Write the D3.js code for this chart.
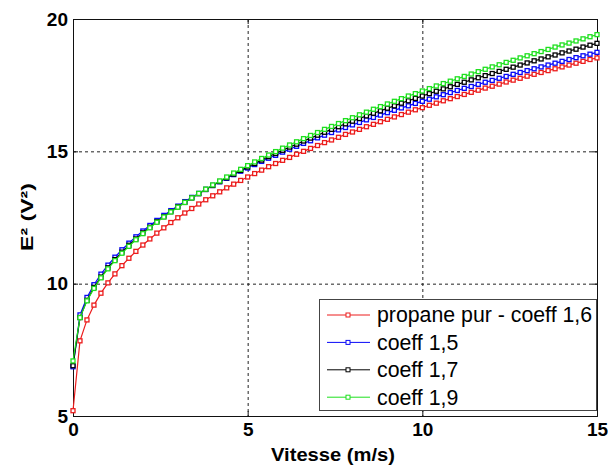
<!DOCTYPE html>
<html>
<head>
<meta charset="utf-8">
<script src="https://cdn.jsdelivr.net/npm/d3@7"></script>
<style>
  body { margin: 0; background: #fff; }
  svg { display: block; font-family: "Liberation Sans", Arial, sans-serif; }
</style>
</head>
<body>
<div id="chart"></div>
<script>
// vitesse (m/s), un point tous les 0,2
var speed = [0, 0.2, 0.4, 0.6, 0.8, 1, 1.2, 1.4, 1.6, 1.8, 2, 2.2, 2.4, 2.6, 2.8, 3, 3.2, 3.4, 3.6, 3.8,
  4, 4.2, 4.4, 4.6, 4.8, 5, 5.2, 5.4, 5.6, 5.8, 6, 6.2, 6.4, 6.6, 6.8, 7, 7.2, 7.4, 7.6, 7.8,
  8, 8.2, 8.4, 8.6, 8.8, 9, 9.2, 9.4, 9.6, 9.8, 10, 10.2, 10.4, 10.6, 10.8, 11, 11.2, 11.4, 11.6, 11.8,
  12, 12.2, 12.4, 12.6, 12.8, 13, 13.2, 13.4, 13.6, 13.8, 14, 14.2, 14.4, 14.6, 14.8, 15];

var propanePur = [5.20, 7.84, 8.63, 9.19, 9.64, 10.03, 10.37, 10.68, 10.96, 11.22, 11.46, 11.69, 11.91, 12.11, 12.31,
  12.49, 12.67, 12.84, 13.01, 13.17, 13.32, 13.47, 13.62, 13.76, 13.90, 14.03, 14.16, 14.29, 14.42, 14.54,
  14.66, 14.77, 14.89, 15.00, 15.11, 15.22, 15.33, 15.43, 15.53, 15.64, 15.73, 15.83, 15.93, 16.02, 16.12,
  16.21, 16.30, 16.39, 16.48, 16.57, 16.65, 16.74, 16.82, 16.91, 16.99, 17.07, 17.15, 17.23, 17.31, 17.39,
  17.46, 17.54, 17.62, 17.69, 17.76, 17.84, 17.91, 17.98, 18.05, 18.12, 18.19, 18.26, 18.33, 18.40, 18.47, 18.53];

var coeff15 = [6.86, 8.82, 9.48, 9.96, 10.36, 10.70, 11.00, 11.28, 11.53, 11.77, 11.99, 12.20, 12.39, 12.58, 12.76,
  12.93, 13.10, 13.26, 13.41, 13.56, 13.71, 13.85, 13.98, 14.12, 14.25, 14.37, 14.50, 14.62, 14.74, 14.85,
  14.97, 15.08, 15.19, 15.30, 15.40, 15.51, 15.61, 15.71, 15.81, 15.90, 16.00, 16.09, 16.19, 16.28, 16.37,
  16.46, 16.55, 16.64, 16.72, 16.81, 16.89, 16.97, 17.06, 17.14, 17.22, 17.30, 17.38, 17.45, 17.53, 17.61,
  17.68, 17.76, 17.83, 17.91, 17.98, 18.05, 18.12, 18.19, 18.26, 18.33, 18.40, 18.47, 18.54, 18.61, 18.67, 18.74];

var coeff17 = [6.90, 8.72, 9.37, 9.86, 10.25, 10.60, 10.91, 11.19, 11.45, 11.69, 11.92, 12.13, 12.34, 12.53, 12.72,
  12.90, 13.07, 13.24, 13.40, 13.56, 13.71, 13.86, 14.00, 14.14, 14.28, 14.41, 14.54, 14.67, 14.80, 14.92,
  15.04, 15.16, 15.27, 15.39, 15.50, 15.61, 15.72, 15.83, 15.93, 16.04, 16.14, 16.24, 16.34, 16.44, 16.53,
  16.63, 16.72, 16.82, 16.91, 17.00, 17.09, 17.18, 17.27, 17.36, 17.44, 17.53, 17.61, 17.70, 17.78, 17.86,
  17.94, 18.02, 18.10, 18.18, 18.26, 18.34, 18.42, 18.49, 18.57, 18.64, 18.72, 18.79, 18.86, 18.94, 19.01, 19.08];

var coeff19 = [7.08, 8.72, 9.35, 9.82, 10.22, 10.56, 10.87, 11.15, 11.41, 11.66, 11.89, 12.11, 12.32, 12.52, 12.71,
  12.89, 13.07, 13.24, 13.41, 13.57, 13.73, 13.88, 14.03, 14.18, 14.32, 14.46, 14.60, 14.73, 14.86, 14.99,
  15.12, 15.24, 15.36, 15.48, 15.60, 15.71, 15.83, 15.94, 16.05, 16.16, 16.27, 16.38, 16.48, 16.59, 16.69,
  16.79, 16.89, 16.99, 17.09, 17.18, 17.28, 17.37, 17.47, 17.56, 17.65, 17.74, 17.83, 17.92, 18.01, 18.10,
  18.19, 18.27, 18.36, 18.44, 18.53, 18.61, 18.69, 18.77, 18.85, 18.94, 19.02, 19.09, 19.17, 19.25, 19.33, 19.41];

var seriesNames = ["propane pur - coeff 1,6", "coeff 1,5", "coeff 1,7", "coeff 1,9"];
var seriesValues = [propanePur, coeff15, coeff17, coeff19];
var seriesColors = ["#ec1c1c", "#0808f8", "#000000", "#1ee01e"];

var xTicks = [0, 5, 10, 15];
var yTicks = [5, 10, 15, 20];

var W = 608, H = 469;
var margin = {left: 73, top: 19, right: 11, bottom: 53};
var width = W - margin.left - margin.right;
var height = H - margin.top - margin.bottom;

var svg = d3.select("#chart").append("svg")
  .attr("width", W)
  .attr("height", H);

var g = svg.append("g")
  .attr("transform", "translate(" + margin.left + "," + margin.top + ")");

var x = d3.scaleLinear().domain([0, 15]).range([0, width]);
var y = d3.scaleLinear().domain([5, 20]).range([height, 0]);

// grille pointillée
g.append("g").selectAll("line.gx")
  .data(xTicks.slice(1, -1))
  .enter().append("line")
  .attr("x1", d => x(d) + 0.5).attr("x2", d => x(d) + 0.5)
  .attr("y1", 0).attr("y2", height)
  .attr("stroke", "#222").attr("stroke-dasharray", "3,3");
g.append("g").selectAll("line.gy")
  .data(yTicks.slice(1, -1))
  .enter().append("line")
  .attr("y1", d => y(d) + 0.5).attr("y2", d => y(d) + 0.5)
  .attr("x1", 0).attr("x2", width)
  .attr("stroke", "#222").attr("stroke-dasharray", "3,3");

// axes
g.append("g")
  .attr("transform", "translate(0," + height + ")")
  .call(d3.axisBottom(x).tickValues(xTicks).tickSize(-5).tickPadding(7).tickFormat(d3.format("d")));
g.append("g")
  .call(d3.axisLeft(y).tickValues(yTicks).tickSize(-5).tickPadding(5).tickFormat(d3.format("d")));
g.append("g")
  .call(d3.axisTop(x).tickValues(xTicks).tickSize(-5).tickFormat(""));
g.append("g")
  .attr("transform", "translate(" + width + ",0)")
  .call(d3.axisRight(y).tickValues(yTicks).tickSize(-5).tickFormat(""));

g.selectAll(".domain").attr("stroke", "#111");
g.selectAll(".tick line").attr("stroke", "#111");
g.selectAll(".tick text")
  .attr("font-family", "'Liberation Sans', Arial, sans-serif")
  .attr("font-size", "19px")
  .attr("font-weight", "bold")
  .attr("fill", "#000");

// courbes
var line = d3.line()
  .x((d, i) => x(speed[i]))
  .y(d => y(d));

seriesValues.forEach(function(vals, s) {
  var sg = g.append("g");
  sg.append("path")
    .datum(vals)
    .attr("fill", "none")
    .attr("stroke", seriesColors[s])
    .attr("stroke-width", 1.2)
    .attr("d", line);
  sg.selectAll("rect")
    .data(vals)
    .enter().append("rect")
    .attr("x", (d, i) => x(speed[i]) - 2)
    .attr("y", d => y(d) - 2)
    .attr("width", 4)
    .attr("height", 4)
    .attr("fill", "#fff")
    .attr("stroke", seriesColors[s])
    .attr("stroke-width", 1.3);
});

// titres des axes
svg.append("text")
  .attr("x", margin.left + width / 2 - 2)
  .attr("y", 461)
  .attr("text-anchor", "middle")
  .attr("font-size", "19px")
  .attr("font-weight", "bold")
  .attr("textLength", 124)
  .attr("lengthAdjust", "spacingAndGlyphs")
  .text("Vitesse (m/s)");

svg.append("text")
  .attr("transform", "translate(33,217) rotate(-90)")
  .attr("text-anchor", "middle")
  .attr("font-size", "17px")
  .attr("font-weight", "bold")
  .attr("textLength", 68)
  .attr("lengthAdjust", "spacingAndGlyphs")
  .text("E² (V²)");

// légende
var legend = g.append("g")
  .attr("transform", "translate(" + (319 - margin.left) + "," + (299 - margin.top) + ")");
legend.append("rect")
  .attr("x", 0.5).attr("y", 0.5)
  .attr("width", 277).attr("height", 111)
  .attr("fill", "#fff")
  .attr("stroke", "#444");

seriesNames.forEach(function(name, i) {
  var cy = 16 + i * 27.4;
  legend.append("line")
    .attr("x1", 8).attr("x2", 51)
    .attr("y1", cy).attr("y2", cy)
    .attr("stroke", seriesColors[i]);
  legend.append("rect")
    .attr("x", 27).attr("y", cy - 2)
    .attr("width", 4).attr("height", 4)
    .attr("fill", "#fff")
    .attr("stroke", seriesColors[i]);
  legend.append("text")
    .attr("x", 58)
    .attr("y", cy)
    .attr("dy", "0.35em")
    .attr("font-size", "21.3px")
    .attr("fill", "#000")
    .text(name);
});
</script>
</body>
</html>
